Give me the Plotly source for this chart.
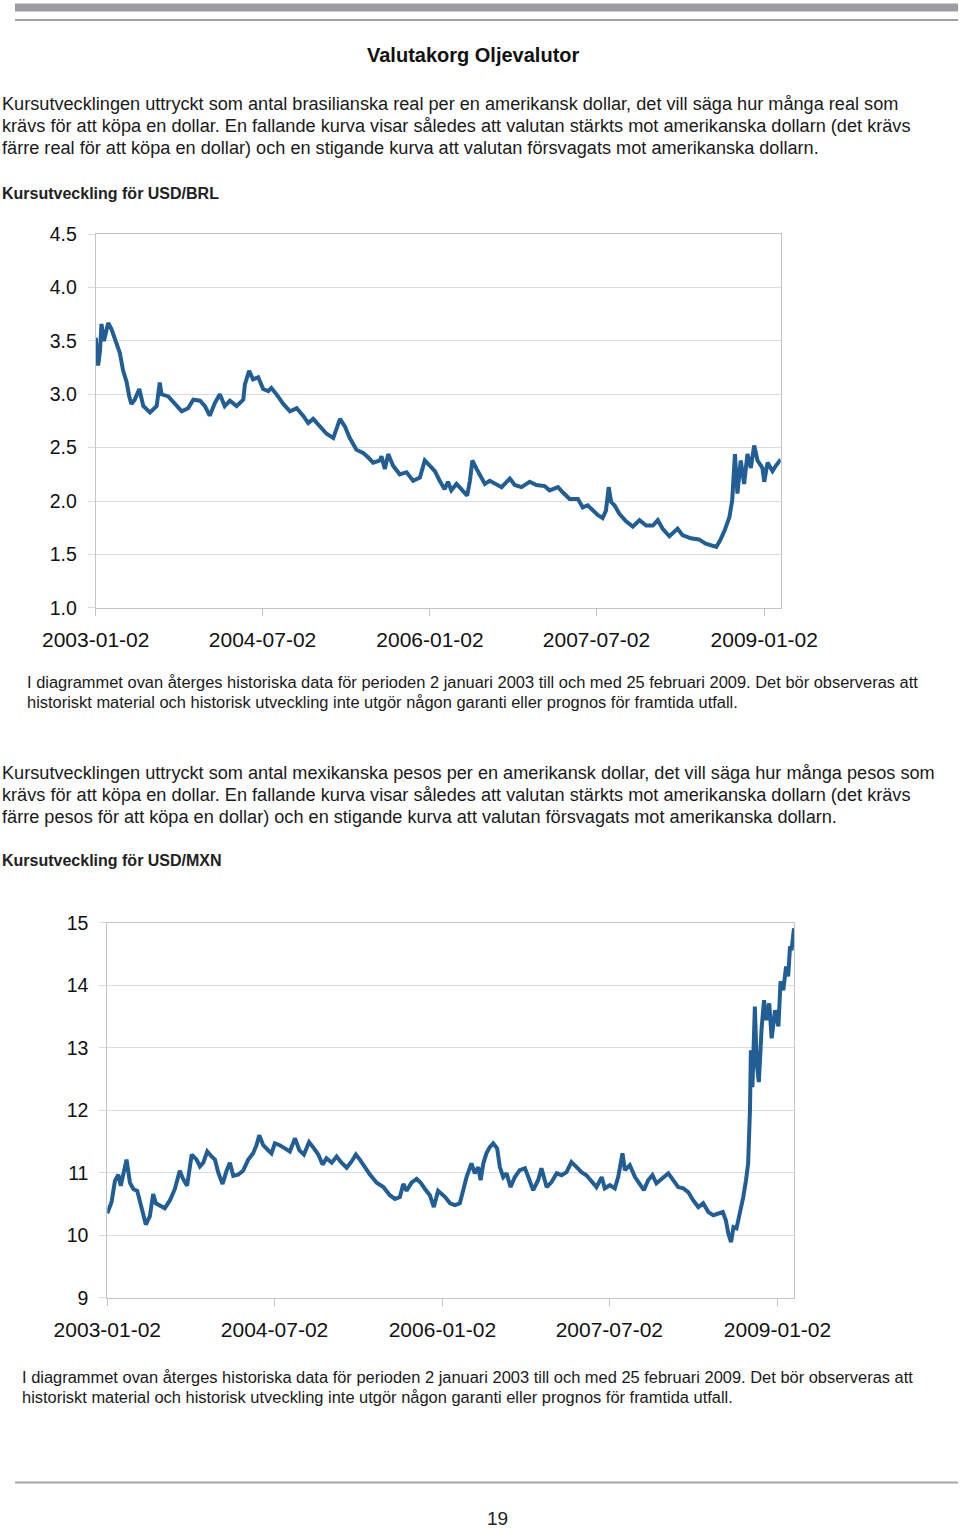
import plotly.graph_objects as go

W, H = 960, 1529

# ---------------- data ----------------
brl_dates = [
    "2003-01-02", "2003-01-10", "2003-01-16", "2003-01-21", "2003-01-29", "2003-02-12", "2003-02-23",
    "2003-03-11", "2003-03-22", "2003-04-02", "2003-04-13", "2003-04-22", "2003-04-29", "2003-05-10",
    "2003-05-25", "2003-06-07", "2003-06-29", "2003-07-21", "2003-07-31", "2003-08-06", "2003-08-28",
    "2003-09-19", "2003-10-11", "2003-11-01", "2003-11-18", "2003-12-10", "2003-12-26", "2004-01-11",
    "2004-01-28", "2004-02-13", "2004-02-29", "2004-03-17", "2004-04-08", "2004-04-30", "2004-05-05",
    "2004-05-19", "2004-06-01", "2004-06-18", "2004-07-04", "2004-07-21", "2004-07-31", "2004-08-17",
    "2004-09-08", "2004-09-30", "2004-10-22", "2004-11-12", "2004-11-29", "2004-12-15", "2005-01-06",
    "2005-01-28", "2005-02-19", "2005-03-02", "2005-03-13", "2005-03-29", "2005-04-14", "2005-05-06",
    "2005-05-28", "2005-06-13", "2005-06-30", "2005-07-22", "2005-07-27", "2005-08-07", "2005-08-18",
    "2005-09-03", "2005-09-25", "2005-10-17", "2005-11-08", "2005-11-30", "2005-12-16",
    "2006-01-02", "2006-01-18", "2006-02-03", "2006-02-19", "2006-03-02", "2006-03-13", "2006-03-30",
    "2006-04-15", "2006-05-04", "2006-05-13", "2006-05-21", "2006-06-04", "2006-06-20", "2006-07-01",
    "2006-07-17", "2006-08-08", "2006-08-25", "2006-09-21", "2006-10-07", "2006-10-29", "2006-11-25",
    "2006-12-17", "2007-01-13", "2007-01-29", "2007-02-26", "2007-03-14", "2007-04-05", "2007-05-02",
    "2007-05-18", "2007-06-03", "2007-06-19", "2007-07-06", "2007-07-22", "2007-08-02", "2007-08-11",
    "2007-08-19", "2007-08-30", "2007-09-15", "2007-10-07", "2007-10-29", "2007-11-20", "2007-12-12",
    "2008-01-03", "2008-01-19", "2008-02-04", "2008-02-26", "2008-03-24", "2008-04-09", "2008-05-06",
    "2008-06-02", "2008-06-24", "2008-07-29", "2008-08-12", "2008-08-26", "2008-09-10", "2008-09-19",
    "2008-09-28", "2008-10-06", "2008-10-17", "2008-10-28", "2008-11-08", "2008-11-19", "2008-11-30",
    "2008-12-11", "2008-12-27", "2009-01-02", "2009-01-13", "2009-01-29", "2009-02-09", "2009-02-25",
]
brl_values = [
    3.53, 3.27, 3.40, 3.66, 3.50, 3.67, 3.61,
    3.48, 3.39, 3.22, 3.12, 2.98, 2.91, 2.95,
    3.05, 2.89, 2.83, 2.89, 3.11, 3.00, 2.98,
    2.91, 2.84, 2.87, 2.95, 2.94, 2.89, 2.80,
    2.92, 3.00, 2.89, 2.94, 2.89, 2.95, 3.09,
    3.22, 3.14, 3.16, 3.05, 3.03, 3.06, 3.00,
    2.91, 2.84, 2.87, 2.80, 2.73, 2.77, 2.70,
    2.63, 2.59, 2.69, 2.77, 2.70, 2.59, 2.48,
    2.45, 2.41, 2.36, 2.38, 2.42, 2.30, 2.44,
    2.33, 2.25, 2.27, 2.19, 2.22, 2.38,
    2.33, 2.28, 2.19, 2.11, 2.18, 2.10, 2.16,
    2.11, 2.05, 2.19, 2.38, 2.30, 2.22, 2.16,
    2.19, 2.16, 2.13, 2.21, 2.15, 2.13, 2.18,
    2.15, 2.14, 2.10, 2.13, 2.08, 2.02, 2.02,
    1.94, 1.96, 1.91, 1.87, 1.84, 1.91, 2.13,
    1.99, 1.96, 1.88, 1.81, 1.76, 1.82, 1.77,
    1.77, 1.82, 1.74, 1.67, 1.74, 1.68, 1.65,
    1.64, 1.60, 1.57, 1.64, 1.73, 1.85, 2.01,
    2.44, 2.07, 2.38, 2.16, 2.44, 2.31, 2.52,
    2.38, 2.31, 2.18, 2.36, 2.28, 2.33, 2.39,
]

mxn_dates = [
    "2003-01-02", "2003-01-16", "2003-01-27", "2003-02-07", "2003-02-15", "2003-02-23", "2003-03-06",
    "2003-03-17", "2003-03-28", "2003-04-10", "2003-04-24", "2003-05-08", "2003-05-21", "2003-06-01",
    "2003-06-10", "2003-06-23", "2003-07-09", "2003-07-26", "2003-08-11", "2003-08-27", "2003-09-07",
    "2003-09-20", "2003-10-05", "2003-10-21", "2003-11-01", "2003-11-12", "2003-11-25", "2003-12-09",
    "2003-12-20", "2003-12-31", "2004-01-14", "2004-01-27", "2004-02-07", "2004-02-18", "2004-03-05",
    "2004-03-21", "2004-04-07", "2004-04-23", "2004-05-04", "2004-05-13", "2004-05-26", "2004-06-11",
    "2004-06-22", "2004-07-03", "2004-07-19", "2004-08-05", "2004-08-21", "2004-09-07", "2004-09-21",
    "2004-10-06", "2004-10-23", "2004-11-08", "2004-11-22", "2004-12-06", "2004-12-19", "2005-01-05",
    "2005-01-21", "2005-02-06", "2005-02-23", "2005-03-11", "2005-03-25", "2005-04-07", "2005-04-23",
    "2005-05-10", "2005-06-01", "2005-06-23", "2005-07-14", "2005-07-31", "2005-08-16", "2005-08-27",
    "2005-09-07", "2005-09-23", "2005-10-10", "2005-10-23", "2005-11-06", "2005-11-22", "2005-12-05",
    "2005-12-19",
    "2006-01-11", "2006-01-27", "2006-02-12", "2006-02-28", "2006-03-11", "2006-03-22", "2006-04-07",
    "2006-04-18", "2006-04-29", "2006-05-07", "2006-05-16", "2006-05-26", "2006-06-06", "2006-06-17",
    "2006-06-30", "2006-07-09", "2006-07-20", "2006-07-31", "2006-08-13", "2006-08-27", "2006-09-12",
    "2006-09-29", "2006-10-10", "2006-10-26", "2006-11-11", "2006-11-22", "2006-12-09", "2006-12-25",
    "2007-01-11", "2007-01-27", "2007-02-12", "2007-02-28", "2007-03-17", "2007-04-02", "2007-04-18",
    "2007-05-05", "2007-05-21", "2007-06-07", "2007-06-17", "2007-07-04", "2007-07-20", "2007-07-31",
    "2007-08-14", "2007-08-22", "2007-09-07", "2007-09-24", "2007-10-10", "2007-10-23", "2007-11-06",
    "2007-11-20", "2007-12-03", "2007-12-23", "2008-01-11", "2008-01-27", "2008-02-12", "2008-02-29",
    "2008-03-16", "2008-04-01", "2008-04-18", "2008-05-04", "2008-05-21", "2008-06-06", "2008-06-22",
    "2008-07-07", "2008-07-17", "2008-07-25", "2008-08-03", "2008-08-11", "2008-08-21", "2008-09-01",
    "2008-09-12", "2008-09-21", "2008-09-28", "2008-10-04", "2008-10-07", "2008-10-12", "2008-10-20",
    "2008-10-26", "2008-11-02", "2008-11-11", "2008-11-19", "2008-11-27", "2008-12-06", "2008-12-14",
    "2008-12-25", "2009-01-05", "2009-01-12", "2009-01-21", "2009-01-30", "2009-02-06", "2009-02-12",
    "2009-02-17", "2009-02-25",
]
mxn_values = [
    10.35, 10.53, 10.87, 10.97, 10.79, 10.95, 11.21,
    10.84, 10.74, 10.71, 10.45, 10.17, 10.30, 10.66,
    10.51, 10.48, 10.43, 10.56, 10.74, 11.03, 10.90,
    10.79, 11.29, 11.21, 11.10, 11.16, 11.34, 11.26,
    11.21, 11.00, 10.82, 11.03, 11.16, 10.95, 10.97,
    11.03, 11.21, 11.31, 11.44, 11.60, 11.44, 11.36,
    11.31, 11.47, 11.44, 11.39, 11.34, 11.55, 11.36,
    11.29, 11.49, 11.39, 11.29, 11.13, 11.23, 11.16,
    11.26, 11.16, 11.08, 11.18, 11.29, 11.21, 11.08,
    10.97, 10.84, 10.77, 10.64, 10.58, 10.61, 10.82,
    10.71, 10.84, 10.90, 10.84, 10.74, 10.64, 10.45,
    10.71,
    10.61, 10.51, 10.48, 10.51, 10.72, 10.93, 11.15,
    10.99, 11.09, 10.88, 11.15, 11.31, 11.41, 11.47,
    11.39, 11.09, 10.93, 10.99, 10.77, 10.93, 11.04,
    11.07, 10.93, 10.72, 10.88, 11.07, 10.77, 10.85,
    10.99, 10.96, 11.01, 11.17, 11.09, 11.01, 10.96,
    10.85, 10.77, 10.93, 10.75, 10.80, 10.75, 10.93,
    11.31, 11.04, 11.12, 10.93, 10.80, 10.72, 10.88,
    10.96, 10.83, 10.91, 10.99, 10.88, 10.77, 10.75,
    10.69, 10.56, 10.45, 10.51, 10.37, 10.32, 10.35,
    10.37, 10.24, 10.03, 9.89, 10.13, 10.11, 10.35,
    10.61, 10.88, 11.15, 12.00, 12.96, 12.37, 13.66,
    12.75, 12.45, 13.31, 13.76, 13.44, 13.71, 13.15,
    13.60, 13.34, 14.06, 13.92, 14.30, 14.14, 14.62,
    14.56, 14.91,
]

tick_dates = ["2003-01-02", "2004-07-02", "2006-01-02", "2007-07-02", "2009-01-02"]
tick_labels = ["2003-01-02", "2004-07-02", "2006-01-02", "2007-07-02", "2009-01-02"]
x_range = ["2003-01-02", "2009-02-25"]

brl_ticks = [1.0, 1.5, 2.0, 2.5, 3.0, 3.5, 4.0, 4.5]
mxn_ticks = [9, 10, 11, 12, 13, 14, 15]

title = "Valutakorg Oljevalutor"
intro_brl = [
    "Kursutvecklingen uttryckt som antal brasilianska real per en amerikansk dollar, det vill säga hur många real som",
    "krävs för att köpa en dollar. En fallande kurva visar således att valutan stärkts mot amerikanska dollarn (det krävs",
    "färre real för att köpa en dollar) och en stigande kurva att valutan försvagats mot amerikanska dollarn.",
]
heading_brl = "Kursutveckling för USD/BRL"
intro_mxn = [
    "Kursutvecklingen uttryckt som antal mexikanska pesos per en amerikansk dollar, det vill säga hur många pesos som",
    "krävs för att köpa en dollar. En fallande kurva visar således att valutan stärkts mot amerikanska dollarn (det krävs",
    "färre pesos för att köpa en dollar) och en stigande kurva att valutan försvagats mot amerikanska dollarn.",
]
heading_mxn = "Kursutveckling för USD/MXN"
note = [
    "I diagrammet ovan återges historiska data för perioden 2 januari 2003 till och med 25 februari 2009. Det bör observeras att",
    "historiskt material och historisk utveckling inte utgör någon garanti eller prognos för framtida utfall.",
]
page_number = "19"

# ---------------- layout helpers ----------------
FONT = "Liberation Sans, Arial, Helvetica, sans-serif"
LINE_COLOR = "#215e95"
GRID = "#dcdcdc"
AXIS = "#c4c4c4"


def px(x):
    return x / W


def py(y):
    return 1 - y / H


fig = go.Figure()
fig.add_trace(go.Scatter(x=brl_dates, y=brl_values, mode="lines",
                         line=dict(color=LINE_COLOR, width=4), xaxis="x", yaxis="y",
                         hoverinfo="skip"))
fig.add_trace(go.Scatter(x=mxn_dates, y=mxn_values, mode="lines",
                         line=dict(color=LINE_COLOR, width=4), xaxis="x2", yaxis="y2",
                         hoverinfo="skip"))


def xaxis_cfg(domain, anchor):
    return dict(domain=domain, anchor=anchor, type="date", range=x_range,
                tickmode="array", tickvals=tick_dates, ticktext=tick_labels,
                showgrid=False, showline=True, linecolor=AXIS, linewidth=1, mirror=True,
                ticks="outside", ticklen=7, tickcolor=AXIS, tickwidth=1,
                tickfont=dict(family=FONT, size=21, color="#111111"),
                ticklabelstandoff=6, zeroline=False, fixedrange=True)


def yaxis_cfg(domain, anchor, rng, ticks, fmt):
    return dict(domain=domain, anchor=anchor, range=rng, tickmode="array",
                tickvals=ticks, tickformat=fmt,
                showgrid=True, gridcolor=GRID, gridwidth=1,
                showline=True, linecolor=AXIS, linewidth=1, mirror=True,
                ticks="outside", ticklen=7, tickcolor=GRID, tickwidth=1,
                tickfont=dict(family=FONT, size=19.5, color="#111111"),
                ticklabelstandoff=7, zeroline=False, fixedrange=True)


fig.update_layout(
    width=W, height=H, margin=dict(l=0, r=0, t=0, b=0, pad=0, autoexpand=False),
    paper_bgcolor="white", plot_bgcolor="white", showlegend=False,
    xaxis=xaxis_cfg([px(95.7), px(780.7)], "y"),
    yaxis=yaxis_cfg([py(607.7), py(234.3)], "x", [1.0, 4.5], brl_ticks, ".1f"),
    xaxis2=xaxis_cfg([px(107.3), px(794)], "y2"),
    yaxis2=yaxis_cfg([py(1297.7), py(922.7)], "x2", [9, 15], mxn_ticks, "d"),
)

anns = []


def text(x, y, s, size, bold=False, anchor="left", family=FONT, color="#1a1a1a"):
    anns.append(dict(x=px(x), y=py(y), xref="paper", yref="paper", text=("<b>%s</b>" % s) if bold else s,
                     showarrow=False, xanchor=anchor, yanchor="middle", borderpad=0,
                     font=dict(family=family, size=size, color=color)))


text(473, 55, title, 20, bold=True, anchor="center", color="#111111")
for i, line in enumerate(intro_brl):
    text(1, 104 + 22 * i, line, 18.15)
text(1, 193, heading_brl, 16, bold=True, color="#222222")
for i, line in enumerate(note):
    text(26, 682 + 19.5 * i, line, 16.45)
for i, line in enumerate(intro_mxn):
    text(1, 773 + 22 * i, line, 18.15)
text(1, 860, heading_mxn, 16, bold=True, color="#222222")
for i, line in enumerate(note):
    text(21, 1377 + 19.5 * i, line, 16.45)
text(497.5, 1518, page_number, 19, anchor="center",
     family="Liberation Sans Narrow, Arial Narrow, Liberation Sans, sans-serif", color="#222222")

fig.update_layout(annotations=anns)

shapes = [
    dict(type="rect", xref="paper", yref="paper", x0=px(15), x1=px(958), y0=py(11.5), y1=py(3.5),
         fillcolor="#9c9da1", line=dict(width=0), layer="above"),
    dict(type="line", xref="paper", yref="paper", x0=px(15), x1=px(958), y0=py(20), y1=py(20),
         line=dict(color="#a2a2a2", width=2)),
    dict(type="line", xref="paper", yref="paper", x0=px(15), x1=px(958), y0=py(1482.5), y1=py(1482.5),
         line=dict(color="#a8a8a8", width=2)),
]
fig.update_layout(shapes=shapes)

fig.write_html("out.html", config={"displayModeBar": False},
               post_script="document.body.style.margin='0';")
